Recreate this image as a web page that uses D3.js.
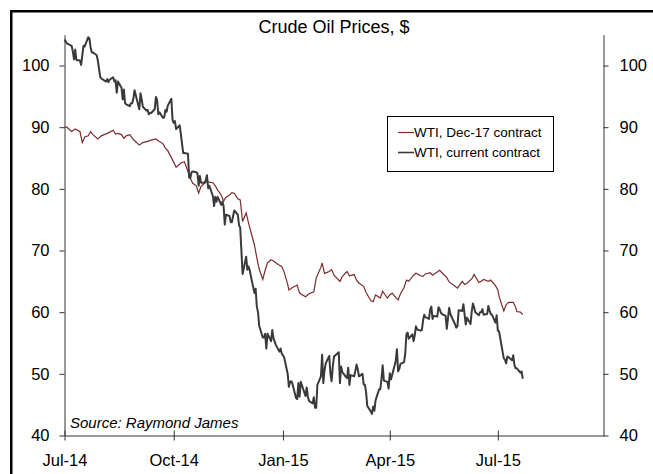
<!DOCTYPE html>
<html>
<head>
    <title>Crude Oil Prices</title>
    <meta charset="UTF-8">
    <script src="https://cdn.jsdelivr.net/npm/d3@7/dist/d3.min.js"></script>
    <style>
        body { margin: 0; background: #fff; }
        text { font-family: "Liberation Sans", Arial, sans-serif; }
    </style>
</head>
<body>
    <script>
        var chartTitle = 'Crude Oil Prices, $'
        var sourceNote = 'Source: Raymond James'
        var seriesNames = ['WTI, Dec-17 contract', 'WTI, current contract']
        var seriesColors = ['#7d2b2b', '#3a3a3a']
        var xTickDates = ['2014-07-01', '2014-10-01', '2015-01-01', '2015-04-01', '2015-07-01']
        var xTickLabels = ['Jul-14', 'Oct-14', 'Jan-15', 'Apr-15', 'Jul-15']
        var yTicks = [40, 50, 60, 70, 80, 90, 100]

        // front month WTI
        var wtiCurrent = [
            ['2014-07-01',104.2],['2014-07-03',103.6],['2014-07-07',103.2],['2014-07-08',102.3],['2014-07-09',101.0],
            ['2014-07-10',102.6],['2014-07-11',100.9],['2014-07-14',100.8],['2014-07-15',100.1],['2014-07-17',103.2],
            ['2014-07-18',103.1],['2014-07-21',104.6],['2014-07-22',104.4],['2014-07-23',102.9],['2014-07-24',102.1],
            ['2014-07-25',102.1],['2014-07-28',101.7],['2014-07-29',100.9],['2014-07-30',99.6],['2014-07-31',98.2],
            ['2014-08-01',97.9],['2014-08-05',97.4],['2014-08-06',97.8],['2014-08-07',97.3],['2014-08-08',97.7],
            ['2014-08-11',98.1],['2014-08-12',97.4],['2014-08-13',97.6],['2014-08-14',95.6],['2014-08-15',97.4],
            ['2014-08-18',96.4],['2014-08-19',94.5],['2014-08-20',96.1],['2014-08-21',93.9],['2014-08-22',93.7],
            ['2014-08-25',93.4],['2014-08-26',93.9],['2014-08-27',93.9],['2014-08-28',94.6],['2014-08-29',96.0],
            ['2014-09-02',92.9],['2014-09-03',95.5],['2014-09-04',94.5],['2014-09-05',93.3],['2014-09-08',92.7],
            ['2014-09-09',92.8],['2014-09-10',92.1],['2014-09-11',92.3],['2014-09-12',92.3],['2014-09-15',92.9],
            ['2014-09-16',94.9],['2014-09-17',94.4],['2014-09-18',92.1],['2014-09-19',92.4],['2014-09-22',91.5],
            ['2014-09-23',91.6],['2014-09-24',92.8],['2014-09-25',92.5],['2014-09-26',93.5],['2014-09-29',94.6],
            ['2014-09-30',91.2],['2014-10-01',90.7],['2014-10-02',91.0],['2014-10-03',89.7],['2014-10-06',90.3],
            ['2014-10-07',88.9],['2014-10-08',87.3],['2014-10-09',85.8],['2014-10-10',85.8],['2014-10-13',85.7],
            ['2014-10-14',81.8],['2014-10-15',81.8],['2014-10-16',82.7],['2014-10-17',82.8],['2014-10-20',82.7],
            ['2014-10-21',82.5],['2014-10-22',80.5],['2014-10-23',82.1],['2014-10-24',81.0],['2014-10-27',81.0],
            ['2014-10-28',81.4],['2014-10-29',82.2],['2014-10-30',80.1],['2014-10-31',80.5],['2014-11-03',78.8],
            ['2014-11-04',77.2],['2014-11-05',78.7],['2014-11-06',77.9],['2014-11-07',78.7],['2014-11-10',77.4],
            ['2014-11-11',77.9],['2014-11-12',77.2],['2014-11-13',74.2],['2014-11-14',75.8],['2014-11-17',75.6],
            ['2014-11-18',74.6],['2014-11-19',74.6],['2014-11-20',75.6],['2014-11-21',76.5],['2014-11-24',75.8],
            ['2014-11-25',74.1],['2014-11-26',73.7],['2014-11-28',66.2],['2014-12-01',69.0],['2014-12-02',66.9],
            ['2014-12-03',67.4],['2014-12-04',66.8],['2014-12-05',65.8],['2014-12-08',63.1],['2014-12-09',63.8],
            ['2014-12-10',60.9],['2014-12-11',60.0],['2014-12-12',57.8],['2014-12-15',55.9],['2014-12-16',55.9],
            ['2014-12-17',56.5],['2014-12-18',54.1],['2014-12-19',56.5],['2014-12-22',55.3],['2014-12-23',57.1],
            ['2014-12-24',55.8],['2014-12-26',54.7],['2014-12-29',53.6],['2014-12-30',54.1],['2014-12-31',53.3],
            ['2015-01-02',52.7],['2015-01-05',50.0],['2015-01-06',47.9],['2015-01-07',48.7],['2015-01-08',48.8],
            ['2015-01-09',48.4],['2015-01-12',46.1],['2015-01-13',45.9],['2015-01-14',48.5],['2015-01-15',46.3],
            ['2015-01-16',48.7],['2015-01-20',46.4],['2015-01-21',47.8],['2015-01-22',46.3],['2015-01-23',45.6],
            ['2015-01-26',45.2],['2015-01-27',46.2],['2015-01-28',44.5],['2015-01-29',44.5],['2015-01-30',48.2],
            ['2015-02-02',49.6],['2015-02-03',53.1],['2015-02-04',48.5],['2015-02-05',50.5],['2015-02-06',51.7],
            ['2015-02-09',52.9],['2015-02-10',50.0],['2015-02-11',48.8],['2015-02-12',51.2],['2015-02-13',52.8],
            ['2015-02-17',53.5],['2015-02-18',48.5],['2015-02-19',51.2],['2015-02-20',50.3],['2015-02-23',49.5],
            ['2015-02-24',49.3],['2015-02-25',51.0],['2015-02-26',48.2],['2015-02-27',49.8],['2015-03-02',49.6],
            ['2015-03-03',50.5],['2015-03-04',51.5],['2015-03-05',50.8],['2015-03-06',49.6],['2015-03-09',50.0],
            ['2015-03-10',48.3],['2015-03-11',48.2],['2015-03-12',47.1],['2015-03-13',44.8],['2015-03-16',43.9],
            ['2015-03-17',43.5],['2015-03-18',44.7],['2015-03-19',44.0],['2015-03-20',45.7],['2015-03-23',47.5],
            ['2015-03-24',47.5],['2015-03-25',49.2],['2015-03-26',51.4],['2015-03-27',48.9],['2015-03-30',48.7],
            ['2015-03-31',47.6],['2015-04-01',50.1],['2015-04-02',49.1],['2015-04-06',52.1],['2015-04-07',54.0],
            ['2015-04-08',50.4],['2015-04-09',50.8],['2015-04-10',51.6],['2015-04-13',51.9],['2015-04-14',53.3],
            ['2015-04-15',56.4],['2015-04-16',56.7],['2015-04-17',55.7],['2015-04-20',56.4],['2015-04-21',55.3],
            ['2015-04-22',56.2],['2015-04-23',57.7],['2015-04-24',57.2],['2015-04-27',57.0],['2015-04-28',57.1],
            ['2015-04-29',58.6],['2015-04-30',59.6],['2015-05-01',59.2],['2015-05-04',58.9],['2015-05-05',60.4],
            ['2015-05-06',60.9],['2015-05-07',58.9],['2015-05-08',59.4],['2015-05-11',59.3],['2015-05-12',60.8],
            ['2015-05-13',60.5],['2015-05-14',59.9],['2015-05-15',59.7],['2015-05-18',59.4],['2015-05-19',57.3],
            ['2015-05-20',59.0],['2015-05-21',60.7],['2015-05-22',59.7],['2015-05-26',58.0],['2015-05-27',57.5],
            ['2015-05-28',57.7],['2015-05-29',60.3],['2015-06-01',60.2],['2015-06-02',61.3],['2015-06-03',59.6],
            ['2015-06-04',58.0],['2015-06-05',59.1],['2015-06-08',58.1],['2015-06-09',60.1],['2015-06-10',61.4],
            ['2015-06-11',60.8],['2015-06-12',60.0],['2015-06-15',59.5],['2015-06-16',60.0],['2015-06-17',60.0],
            ['2015-06-18',60.5],['2015-06-19',59.6],['2015-06-22',59.7],['2015-06-23',61.0],['2015-06-24',60.3],
            ['2015-06-25',59.7],['2015-06-26',59.6],['2015-06-29',58.3],['2015-06-30',59.5],['2015-07-01',57.0],
            ['2015-07-02',56.9],['2015-07-06',52.5],['2015-07-07',52.3],['2015-07-08',51.7],['2015-07-09',52.8],
            ['2015-07-10',52.7],['2015-07-13',52.2],['2015-07-14',53.0],['2015-07-15',51.4],['2015-07-16',50.9],
            ['2015-07-17',50.9],['2015-07-20',50.2],['2015-07-21',50.4],['2015-07-22',49.2]
        ]

        // Dec-17 WTI futures
        var wtiDec17 = [
            ['2014-07-01',90.0],['2014-07-03',90.0],['2014-07-07',89.3],['2014-07-10',89.7],['2014-07-14',89.3],
            ['2014-07-16',87.5],['2014-07-18',88.4],['2014-07-21',88.6],['2014-07-23',89.3],['2014-07-25',88.8],
            ['2014-07-29',88.1],['2014-08-01',88.6],['2014-08-06',89.0],['2014-08-08',89.2],['2014-08-11',89.5],
            ['2014-08-13',88.9],['2014-08-15',89.0],['2014-08-18',88.8],['2014-08-20',88.2],['2014-08-22',88.6],
            ['2014-08-25',88.8],['2014-08-28',88.0],['2014-09-02',87.1],['2014-09-05',87.5],['2014-09-09',87.7],
            ['2014-09-12',87.9],['2014-09-16',88.1],['2014-09-18',87.8],['2014-09-22',87.3],['2014-09-24',86.6],
            ['2014-09-26',86.2],['2014-09-30',84.7],['2014-10-03',83.5],['2014-10-07',84.2],['2014-10-10',84.4],
            ['2014-10-13',82.8],['2014-10-15',81.7],['2014-10-17',80.9],['2014-10-20',80.5],['2014-10-22',79.3],
            ['2014-10-24',80.4],['2014-10-27',80.9],['2014-10-29',81.2],['2014-10-31',81.1],['2014-11-03',81.0],
            ['2014-11-05',80.5],['2014-11-07',79.8],['2014-11-10',79.0],['2014-11-12',78.0],['2014-11-14',78.6],
            ['2014-11-17',79.0],['2014-11-19',79.4],['2014-11-21',79.3],['2014-11-24',78.4],['2014-11-26',78.2],
            ['2014-11-28',74.7],['2014-12-01',76.1],['2014-12-03',74.5],['2014-12-05',73.0],['2014-12-08',70.9],
            ['2014-12-10',68.8],['2014-12-12',67.0],['2014-12-15',65.3],['2014-12-17',66.8],['2014-12-19',68.0],
            ['2014-12-22',68.5],['2014-12-24',68.3],['2014-12-26',68.0],['2014-12-29',67.6],['2014-12-31',67.4],
            ['2015-01-02',66.5],['2015-01-05',64.5],['2015-01-06',63.6],['2015-01-09',64.0],['2015-01-13',64.4],
            ['2015-01-15',63.1],['2015-01-20',62.5],['2015-01-23',63.0],['2015-01-27',63.3],['2015-01-29',65.5],
            ['2015-02-02',67.3],['2015-02-03',68.0],['2015-02-05',66.3],['2015-02-09',66.6],['2015-02-11',66.9],
            ['2015-02-13',66.0],['2015-02-18',65.0],['2015-02-20',65.8],['2015-02-24',66.6],['2015-02-26',65.9],
            ['2015-03-02',66.1],['2015-03-04',65.2],['2015-03-06',64.7],['2015-03-10',64.2],['2015-03-12',63.2],
            ['2015-03-16',61.9],['2015-03-18',61.7],['2015-03-20',62.8],['2015-03-24',62.3],['2015-03-26',63.4],
            ['2015-03-30',62.3],['2015-04-01',62.8],['2015-04-03',63.1],['2015-04-06',62.4],['2015-04-08',62.0],
            ['2015-04-10',63.0],['2015-04-13',64.0],['2015-04-15',65.2],['2015-04-17',65.0],['2015-04-21',66.0],
            ['2015-04-23',66.3],['2015-04-27',65.9],['2015-04-29',65.8],['2015-05-01',66.2],['2015-05-05',66.4],
            ['2015-05-07',66.0],['2015-05-11',66.5],['2015-05-13',66.8],['2015-05-15',66.4],['2015-05-19',65.6],
            ['2015-05-21',64.9],['2015-05-26',64.2],['2015-05-28',63.9],['2015-06-01',65.0],['2015-06-03',64.5],
            ['2015-06-05',64.7],['2015-06-09',65.4],['2015-06-11',66.1],['2015-06-15',64.8],['2015-06-17',65.0],
            ['2015-06-19',65.3],['2015-06-23',65.0],['2015-06-25',65.2],['2015-06-29',64.3],['2015-07-01',63.6],
            ['2015-07-02',62.6],['2015-07-06',60.2],['2015-07-08',61.2],['2015-07-10',61.6],['2015-07-14',61.6],
            ['2015-07-16',60.8],['2015-07-17',60.1],['2015-07-20',60.0],['2015-07-22',59.6]
        ]

        var parse = d3.timeParse('%Y-%m-%d')

        var svg = d3.select('body')
            .append('svg')
            .attr('width', 653)
            .attr('height', 474)

        // outer frame (runs off the right and bottom edge)
        svg.append('rect')
            .attr('x', 11.25)
            .attr('y', 11.25)
            .attr('width', 700)
            .attr('height', 500)
            .attr('fill', 'none')
            .attr('stroke', '#000')
            .attr('stroke-width', 2.5)

        var x = d3.scaleTime()
            .domain([parse('2014-07-01'), parse('2015-09-28')])
            .range([64.5, 603.5])

        var y = d3.scaleLinear()
            .domain([40, 105])
            .range([435.5, 34.7])

        var left = svg.append('g')
            .attr('transform', 'translate(64.5,0)')
            .call(d3.axisLeft(y).tickValues(yTicks).tickSize(5).tickSizeOuter(0).tickPadding(10))

        var right = svg.append('g')
            .attr('transform', 'translate(603.5,0)')
            .call(d3.axisRight(y).tickValues(yTicks).tickSize(5).tickSizeOuter(0).tickPadding(11))

        var bottom = svg.append('g')
            .attr('transform', 'translate(0,435.5)')
            .call(d3.axisBottom(x)
                .tickValues(xTickDates.map(parse))
                .tickFormat(function(d, i){ return xTickLabels[i] })
                .tickSize(5).tickSizeOuter(0).tickPadding(14))

        bottom.selectAll('.tick line').attr('y1', -5)

        svg.selectAll('.domain, .tick line').attr('stroke', '#333')
        svg.selectAll('.tick text')
            .attr('fill', '#000')
            .style('font-size', '16.5px')
            .style('font-family', '"Liberation Sans", Arial, sans-serif')

        var line = d3.line()
            .x(function(d){ return x(parse(d[0])) })
            .y(function(d){ return y(d[1]) })

        svg.append('path')
            .datum(wtiDec17)
            .attr('d', line)
            .attr('fill', 'none')
            .attr('stroke', seriesColors[0])
            .attr('stroke-width', 1.2)

        svg.append('path')
            .datum(wtiCurrent)
            .attr('d', line)
            .attr('fill', 'none')
            .attr('stroke', seriesColors[1])
            .attr('stroke-width', 2)
            .attr('stroke-linejoin', 'round')

        svg.append('text')
            .text(chartTitle)
            .attr('x', 334)
            .attr('y', 33)
            .attr('text-anchor', 'middle')
            .style('font-size', '18px')

        svg.append('text')
            .text(sourceNote)
            .attr('x', 70)
            .attr('y', 428)
            .style('font-size', '15px')
            .style('font-style', 'italic')

        // legend
        var legend = svg.append('g')
        legend.append('rect')
            .attr('x', 387.5)
            .attr('y', 116.5)
            .attr('width', 166)
            .attr('height', 55)
            .attr('fill', '#fff')
            .attr('stroke', '#000')

        var items = legend.selectAll('g.item')
            .data(seriesNames)
            .enter()
            .append('g')
            .attr('class', 'item')
            .attr('transform', function(d, i){ return 'translate(0,' + (132.5 + i*20) + ')' })

        items.append('line')
            .attr('x1', 398)
            .attr('x2', 414)
            .attr('stroke', function(d, i){ return seriesColors[i] })
            .attr('stroke-width', function(d, i){ return i == 0 ? 1.2 : 1.6 })

        items.append('text')
            .text(function(d){ return d })
            .attr('x', 414)
            .attr('y', 4.5)
            .style('font-size', '13.5px')
    </script>
</body>
</html>
